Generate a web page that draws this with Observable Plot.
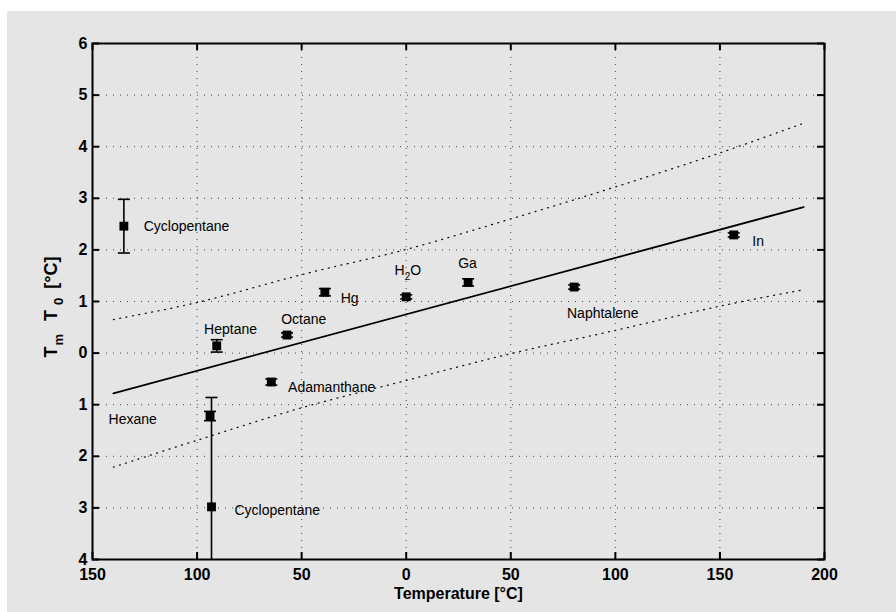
<!DOCTYPE html>
<html>
<head>
<meta charset="utf-8">
<script src="https://cdn.jsdelivr.net/npm/d3@7"></script>
<script src="https://cdn.jsdelivr.net/npm/@observablehq/plot@0.6"></script>
<style>
  html, body { margin: 0; padding: 0; background: #ffffff; }
  #wrap { position: relative; width: 896px; height: 612px; overflow: hidden; }
  #panel { position: absolute; left: 7px; top: 11px; right: 0; bottom: 0; background: #e5e5e5; }
  #chart { position: absolute; left: 0; top: 0; }
</style>
</head>
<body>
<div id="wrap"><div id="panel"></div><div id="chart"></div></div>
<script>
// ---- data ----
const names  = ["Cyclopentane", "Heptane", "Hexane", "Cyclopentane", "Adamanthane", "Octane", "Hg", "H2O", "Ga", "Naphtalene", "In"];
const tempsX = [-135, -90.6, -93.8, -93.1, -64.5, -57, -38.9, 0, 29.6, 80.3, 156.6];
const deltaY = [2.46, 0.14, -1.22, -2.98, -0.56, 0.35, 1.18, 1.09, 1.37, 1.28, 2.29];
const errs   = [0.52, 0.12, 0.09, 2.12, 0.06, 0.04, 0.07, 0.04, 0.07, 0.04, 0.04];

// regression line and bands
const fitX = [-140, 190];
const fitY = [-0.78, 2.83];
const bandX     = [-140, -100, -50, 0, 50, 100, 150, 189];
const bandUpper = [0.65, 0.98, 1.52, 2.01, 2.60, 3.22, 3.88, 4.44];
const bandLower = [-2.21, -1.69, -1.06, -0.53, -0.01, 0.44, 0.91, 1.22];

// labels (anchor points in data units)
const labelText = ["Cyclopentane", "Heptane", "Octane", "Hg", "Ga", "Naphtalene", "Adamanthane", "In", "Hexane", "Cyclopentane"];
const labelX    = [-125.5, -84, -49, -31.3, 29.3, 94, -56.5, 165.5, -142.3, -82.1];
const labelY    = [2.46, 0.45, 0.66, 1.06, 1.74, 0.76, -0.67, 2.17, -1.28, -3.06];
const labelAnchor = ["start", "middle", "middle", "start", "middle", "middle", "start", "start", "start", "start"];

const xTicks = [-150, -100, -50, 0, 50, 100, 150, 200];
const yTicks = [-4, -3, -2, -1, 0, 1, 2, 3, 4, 5, 6];

// ---- tables ----
const points = names.map((n, i) => ({name: n, x: tempsX[i], y: deltaY[i], err: errs[i]}));
const fit = fitX.map((x, i) => ({x, y: fitY[i]}));
const upper = bandX.map((x, i) => ({x, y: bandUpper[i]}));
const lower = bandX.map((x, i) => ({x, y: bandLower[i]}));
const labels = labelText.map((t, i) => ({t, x: labelX[i], y: labelY[i], a: labelAnchor[i]}));

const W = 896, H = 612, ML = 92, MR = 72, MT = 43, MB = 53;
const PW = W - ML - MR, PH = H - MT - MB, TL = 7;

const cap = { draw(ctx) { ctx.moveTo(-6, 0); ctx.lineTo(6, 0); } };
const fmt = d => String(Math.abs(d));
const font = "Liberation Sans, Arial, Helvetica, sans-serif";

const plot = Plot.plot({
  width: W, height: H,
  marginLeft: ML, marginRight: MR, marginTop: MT, marginBottom: MB,
  style: {background: "transparent", fontFamily: font, fontSize: "16px", color: "black"},
  x: {domain: [-150, 200]},
  y: {domain: [-4, 6]},
  marks: [
    Plot.gridX(xTicks, {stroke: "#444", strokeOpacity: 1, strokeWidth: 1, strokeDasharray: "1,6"}),
    Plot.gridY(yTicks, {stroke: "#444", strokeOpacity: 1, strokeWidth: 1, strokeDasharray: "1,6"}),
    // inward ticks
    Plot.ruleX(xTicks, {x: d => d, insetTop: PH - TL, stroke: "black", strokeWidth: 2}),
    Plot.ruleX(xTicks, {x: d => d, insetBottom: PH - TL, stroke: "black", strokeWidth: 2}),
    Plot.ruleY(yTicks, {y: d => d, insetRight: PW - TL, stroke: "black", strokeWidth: 2}),
    Plot.ruleY(yTicks, {y: d => d, insetLeft: PW - TL, stroke: "black", strokeWidth: 2}),
    // bands & fit
    Plot.line(upper, {x: "x", y: "y", curve: "catmull-rom", stroke: "#111", strokeWidth: 1.3, strokeDasharray: "1,5.5"}),
    Plot.line(lower, {x: "x", y: "y", curve: "catmull-rom", stroke: "#111", strokeWidth: 1.3, strokeDasharray: "1,5.5"}),
    Plot.line(fit, {x: "x", y: "y", stroke: "black", strokeWidth: 1.8}),
    // error bars
    Plot.ruleX(points, {x: "x", y1: d => d.y - d.err, y2: d => d.y + d.err, stroke: "black", strokeWidth: 1.6, clip: true}),
    Plot.dot(points, {x: "x", y: d => d.y + d.err, symbol: cap, r: 6, stroke: "black", fill: "none", strokeWidth: 1.6, clip: true}),
    Plot.dot(points, {x: "x", y: d => d.y - d.err, symbol: cap, r: 6, stroke: "black", fill: "none", strokeWidth: 1.6, clip: true}),
    Plot.dot(points, {x: "x", y: "y", symbol: "square", r: 5.0, fill: "black", stroke: "none"}),
    // labels
    Plot.text(labels, {filter: d => d.a === "start", x: "x", y: "y", text: "t", textAnchor: "start", fontSize: 14, fill: "black", fontFamily: font}),
    Plot.text(labels, {filter: d => d.a === "middle", x: "x", y: "y", text: "t", textAnchor: "middle", fontSize: 14, fill: "black", fontFamily: font}),
    Plot.frame({stroke: "black", strokeWidth: 2}),
    Plot.axisX(xTicks, {tickSize: 0, tickPadding: 9, tickFormat: fmt, fontWeight: "bold", fontSize: 16, label: null}),
    Plot.axisY(yTicks, {tickSize: 0, tickPadding: 5, tickFormat: fmt, fontWeight: "bold", fontSize: 16, label: null}),
    Plot.text(["Temperature [°C]"], {frameAnchor: "bottom", dy: 39, fontWeight: "bold", fontSize: 16, fill: "black", fontFamily: font})
  ]
});

document.getElementById("chart").appendChild(plot);

// rich-text labels with subscripts
const svg = d3.select(plot);
const sx = plot.scale("x"), sy = plot.scale("y");

const yl = svg.append("text")
  .attr("transform", `translate(57,307) rotate(-90)`)
  .attr("text-anchor", "middle")
  .attr("font-family", font)
  .attr("font-weight", "bold")
  .attr("font-size", 18)
  .attr("fill", "black");
yl.append("tspan").text("T");
yl.append("tspan").attr("font-size", 13).attr("dy", 6).attr("dx", 1).text("m");
yl.append("tspan").attr("dy", -6).attr("dx", 13).text("T");
yl.append("tspan").attr("font-size", 13).attr("dy", 6).attr("dx", 5).text("0");
yl.append("tspan").attr("dy", -6).attr("dx", 9).text("[°C]");

const h2o = points.find(d => d.name === "H2O");
const hl = svg.append("text")
  .attr("x", sx.apply(h2o.x + 1))
  .attr("y", sy.apply(1.59))
  .attr("dy", "0.35em")
  .attr("text-anchor", "middle")
  .attr("font-family", font)
  .attr("font-size", 14)
  .attr("fill", "black");
hl.append("tspan").text("H");
hl.append("tspan").attr("font-size", 10).attr("dy", 5).text("2");
hl.append("tspan").attr("dy", -5).text("O");
</script>
</body>
</html>
